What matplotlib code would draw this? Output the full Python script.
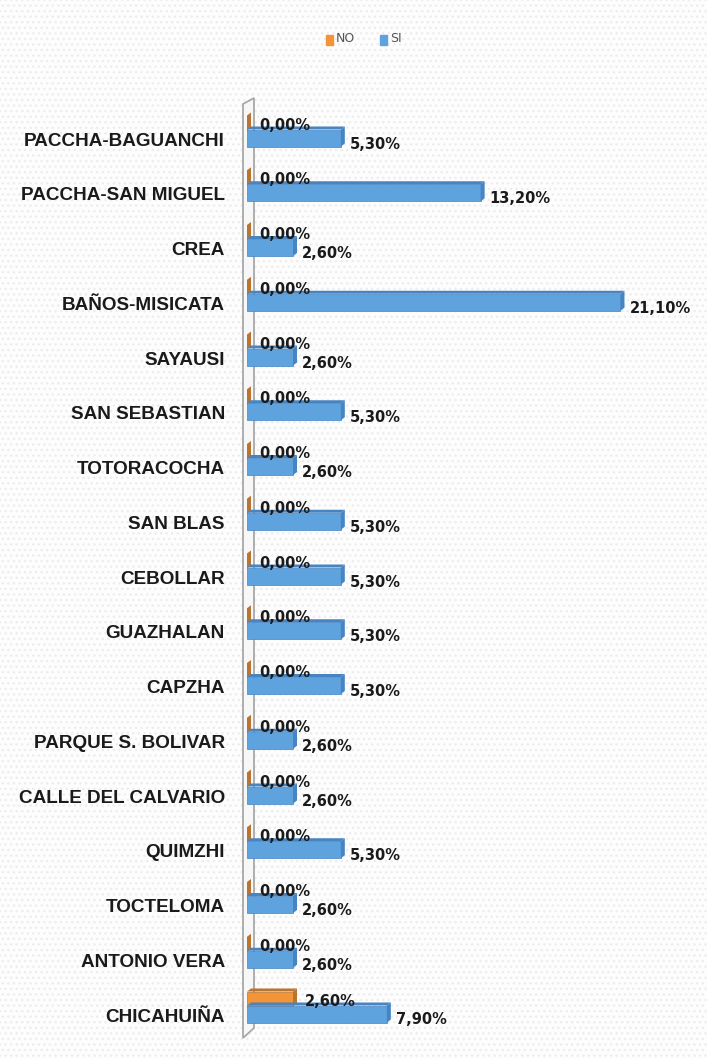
import matplotlib.pyplot as plt
from matplotlib.patches import Polygon, Rectangle

categories = ['PACCHA-BAGUANCHI', 'PACCHA-SAN MIGUEL', 'CREA', 'BAÑOS-MISICATA',
              'SAYAUSI', 'SAN SEBASTIAN', 'TOTORACOCHA', 'SAN BLAS', 'CEBOLLAR',
              'GUAZHALAN', 'CAPZHA', 'PARQUE S. BOLIVAR', 'CALLE DEL CALVARIO',
              'QUIMZHI', 'TOCTELOMA', 'ANTONIO VERA', 'CHICAHUIÑA']
no_vals = [0.0] * 16 + [2.6]
si_vals = [5.3, 13.2, 2.6, 21.1, 2.6, 5.3, 2.6, 5.3, 5.3, 5.3, 5.3,
           2.6, 2.6, 5.3, 2.6, 2.6, 7.9]

orange, orange_dk = '#F39436', '#B87430'
blue, blue_dk = '#5FA3DE', '#4684C2'

W, H = 707, 1059
fig = plt.figure(figsize=(W / 100, H / 100), dpi=100)

# dotted paper background
bg = Rectangle((0, 0), 1, 1, transform=fig.transFigure, facecolor='#FDFDFD',
               edgecolor='#EDEDED', hatch='...', lw=0, zorder=-10)
fig.patches.append(bg)

x0_px, row0_px, step_px = 247, 141, 54.75
xmax = (W - x0_px) / 17.7
ax = fig.add_axes([x0_px / W, 0, 1 - x0_px / W, 1])
ax.set_xlim(0, xmax)
ax.set_ylim((H - row0_px) / step_px, -row0_px / step_px)
ax.axis('off')

px_x = 1 / 17.7          # one pixel in x data units
px_y = 1 / step_px       # one pixel in y data units

# side wall
wall = Polygon([(-4 * px_x, (104 - row0_px) * px_y), (7 * px_x, (98 - row0_px) * px_y),
                (7 * px_x, (1028 - row0_px) * px_y), (-4 * px_x, (1038 - row0_px) * px_y)],
               closed=True, facecolor='#F7F7F7', edgecolor='#A8A8A8', lw=1.3,
               clip_on=False, zorder=1)
ax.add_patch(wall)

dx, dy = 4 * px_x, 3 * px_y


def bar3d(val, yc, h, face, dark, z):
    top = yc - h / 2
    ax.barh(yc, val, height=h, left=0, color=face, edgecolor=dark, lw=0.5, zorder=z)
    ax.add_patch(Polygon([(0, top), (val, top), (val + dx, top - dy), (dx, top - dy)],
                         closed=True, facecolor=dark, edgecolor='none', zorder=z))
    ax.add_patch(Polygon([(val, top), (val + dx, top - dy), (val + dx, top - dy + h),
                          (val, top + h)], closed=True, facecolor=dark,
                         edgecolor='none', zorder=z))


for i, (n, s) in enumerate(zip(no_vals, si_vals)):
    yo = i - 18 * px_y
    ys = i - 3 * px_y
    bar3d(n, yo, 15 * px_y, orange, orange_dk, 2 + i * 0.01)
    bar3d(s, ys, 17 * px_y, blue, blue_dk, 3 + i * 0.01)
    ax.text(n + 12 * px_x, yo + 2 * px_y, f'{n:.2f}%'.replace('.', ','),
            ha='left', va='center', fontsize=10.5, fontweight='bold',
            color='#1A1A1A', zorder=5)
    ax.text(s + 9 * px_x, ys + 6 * px_y, f'{s:.2f}%'.replace('.', ','),
            ha='left', va='center', fontsize=10.5, fontweight='bold',
            color='#1A1A1A', zorder=5)
    ax.text(-22 * px_x, i, categories[i], ha='right', va='center',
            fontsize=13.6, fontweight='bold', color='#1A1A1A',
            family='Liberation Sans')

# legend
fig.patches.append(Rectangle((326 / W, 1 - 45 / H), 7 / W, 10 / H,
                             transform=fig.transFigure, color=orange))
fig.text(336 / W, 1 - 39 / H, 'NO', fontsize=9, color='#555555', va='center')
fig.patches.append(Rectangle((380 / W, 1 - 45 / H), 7 / W, 10 / H,
                             transform=fig.transFigure, color=blue))
fig.text(390 / W, 1 - 39 / H, 'SI', fontsize=9, color='#555555', va='center')

fig.savefig('out.png', dpi=100)
